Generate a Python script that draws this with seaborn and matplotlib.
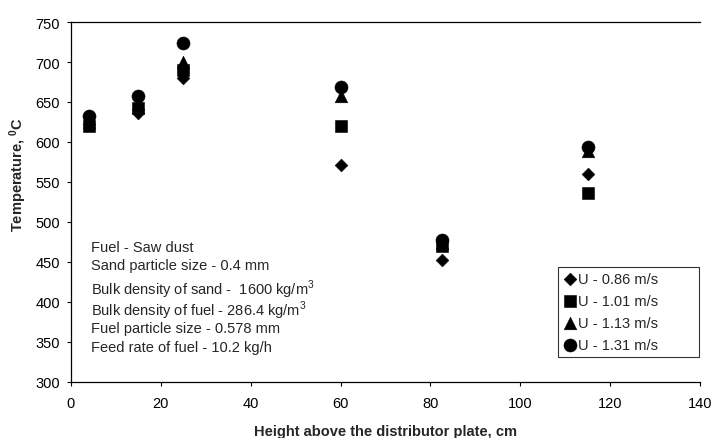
import matplotlib
matplotlib.use("Agg")
import matplotlib.pyplot as plt
import pandas as pd
import seaborn as sns

# --- data ---
height_cm = [4, 15, 25, 60, 82.5, 115]
series_labels = ["U - 0.86 m/s", "U - 1.01 m/s", "U - 1.13 m/s", "U - 1.31 m/s"]
temp_086 = [622, 636, 680, 571, 452, 560]
temp_101 = [620, 643, 690, 620, 470, 536]
temp_113 = [625, 648, 700, 657, 474, 589]
temp_131 = [632, 657, 724, 669, 477, 594]
notes = [
    "Fuel - Saw dust",
    "Sand particle size - 0.4 mm",
    "Bulk density of sand -  1600 kg/m$^3$",
    "Bulk density of fuel - 286.4 kg/m$^3$",
    "Fuel particle size - 0.578 mm",
    "Feed rate of fuel - 10.2 kg/h",
]
notes_y = [469, 446, 417, 390, 367, 344]

rows = []
for lab, vals in zip(series_labels, [temp_086, temp_101, temp_113, temp_131]):
    for h, t in zip(height_cm, vals):
        rows.append({"height": h, "temp": t, "series": lab})
df = pd.DataFrame(rows)

sns.set_style("white")
plt.rcParams["font.family"] = ["Liberation Sans", "DejaVu Sans"]
plt.rcParams["mathtext.fontset"] = "custom"
plt.rcParams["mathtext.rm"] = "Liberation Sans"
plt.rcParams["mathtext.bf"] = "Liberation Sans:bold"

fig = plt.figure(figsize=(7.12, 4.39), dpi=100)
ax = fig.add_axes([0.0997, 0.1276, 0.8834, 0.82])

markers = {series_labels[0]: "D", series_labels[1]: "s",
           series_labels[2]: "^", series_labels[3]: "o"}
sizes = {"D": 42, "s": 78, "^": 82, "o": 88}
for lab in series_labels:
    sub = df[df["series"] == lab]
    m = markers[lab]
    sns.scatterplot(data=sub, x="height", y="temp", marker=m, s=sizes[m],
                    color="black", edgecolor="black", linewidth=0.4,
                    label=lab, ax=ax, zorder=3)

ax.set_xlim(0, 140)
ax.set_ylim(300, 750)
ax.set_xticks(range(0, 141, 20))
ax.set_yticks(range(300, 751, 50))
ax.tick_params(axis="both", direction="out", length=3, width=0.8,
               labelsize=10.5, colors="black", bottom=True, left=True)
ax.tick_params(axis="x", pad=7)
ax.tick_params(axis="y", pad=5)
for side in ["left", "bottom", "top", "right"]:
    ax.spines[side].set_color("black")
    ax.spines[side].set_linewidth(0.9)
ax.spines["right"].set_visible(False)

ax.set_xlabel("Height above the distributor plate, cm", fontsize=10.5,
              fontweight="bold", va="center")
ax.xaxis.set_label_coords(0.5, -0.136)
ax.set_ylabel("Temperature, $\\mathbf{^0}$C", fontsize=10.5,
              fontweight="bold", va="center")
ax.yaxis.set_label_coords(-0.084, 0.58)

# parameter notes, one line each
for line, y in zip(notes, notes_y):
    ax.text(4.4, y, line, fontsize=10.5, va="center", ha="left")

leg = ax.legend(loc="lower left", bbox_to_anchor=(0.774, 0.069, 0.224, 0.2),
                mode="expand", frameon=True, fancybox=False, fontsize=10.5,
                handletextpad=0.0, borderpad=0.35, labelspacing=0.55,
                handlelength=1.0, borderaxespad=0.0)
leg.get_frame().set_edgecolor("black")
leg.get_frame().set_linewidth(0.8)

fig.savefig("out.png", dpi=100)
